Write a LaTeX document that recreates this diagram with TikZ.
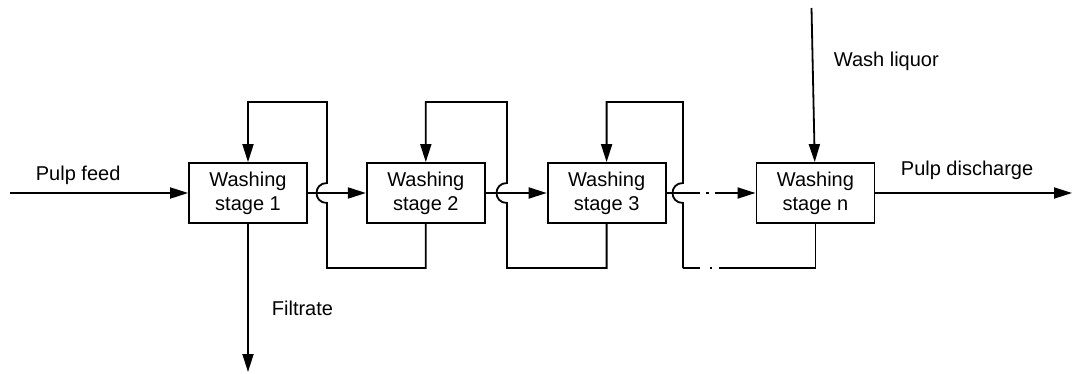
\documentclass[tikz,border=0pt]{standalone}
\usepackage{fontspec}
\setmainfont{Liberation Sans}
\usetikzlibrary{arrows.meta, positioning}

\begin{document}
\begin{tikzpicture}[
  x=0.5pt, y=-0.5pt,
  every path/.style={line width=0.9pt},
  box/.style={draw, align=center, minimum width=59pt, minimum height=30pt, inner sep=2pt},
  arrow/.style={-{Triangle[length=9pt, width=5.5pt]}},
  lbl/.style={anchor=west, inner sep=0pt},
  skipline/.style={dash pattern=on 1.5pt off 3pt on 1.5pt off 3pt on 20pt},
]
  \useasboundingbox (0,0) rectangle (1074,374);

  % washing stages
  \node[box] (s1) at (248,193) {Washing\\stage 1};
  \node[box, right=29pt of s1] (s2) {Washing\\stage 2};
  \node[box, right=30.5pt of s2] (s3) {Washing\\stage 3};
  \node[box, right=44.5pt of s3] (sn) {Washing\\stage n};

  % ends of the outer streams
  \coordinate (feed) at (10,193);
  \coordinate (filt) at (248,372);
  \coordinate (wash) at (811.5,8);
  \coordinate (disch) at (1072,193);

  % corners of the filtrate loops
  \coordinate (b1) at (327,268);
  \coordinate (t1) at (327,102);
  \coordinate (b2) at (507,268);
  \coordinate (t2) at (507,102);
  \coordinate (bn) at (683,268);
  \coordinate (gn) at (719,268);
  \coordinate (tn) at (683,102);
  \coordinate (dn) at (697,193);

  % pulp flow
  \draw[arrow] (feed) -- (s1);
  \draw[arrow] (s1) -- (s2);
  \draw[arrow] (s2) -- (s3);
  \draw (s3) -- (dn);
  \draw[arrow, skipline] (dn) -- (sn);
  \draw[arrow] (sn) -- (disch);
  \draw[arrow] (wash) -- (sn);
  \draw[arrow] (s1) -- (filt);

  % filtrate sent back one stage
  \draw[arrow] (s2.south) |- (b1) -- (327,203) .. controls +(-14,0) and +(-14,0) .. (327,183) -- (t1) -| (s1.north);
  \draw[arrow] (s3.south) |- (b2) -- (507,203) .. controls +(-14,0) and +(-14,0) .. (507,183) -- (t2) -| (s2.north);
  \draw (sn.south) |- (gn);
  \draw[dash pattern=on 8.5pt off 5pt on 1pt off 5pt] (bn) -- (gn);
  \draw[arrow] (bn) -- (683,203) .. controls +(-14,0) and +(-14,0) .. (683,183) -- (tn) -| (s3.north);

  % labels
  \node[lbl] (lfeed) at (35,175) {Pulp feed};
  \node[lbl] (lfilt) at (271,308) {Filtrate};
  \node[lbl] (lwash) at (833,61) {Wash liquor};
  \node[lbl] (ldisch) at (900,170) {Pulp discharge};
\end{tikzpicture}
\end{document}
